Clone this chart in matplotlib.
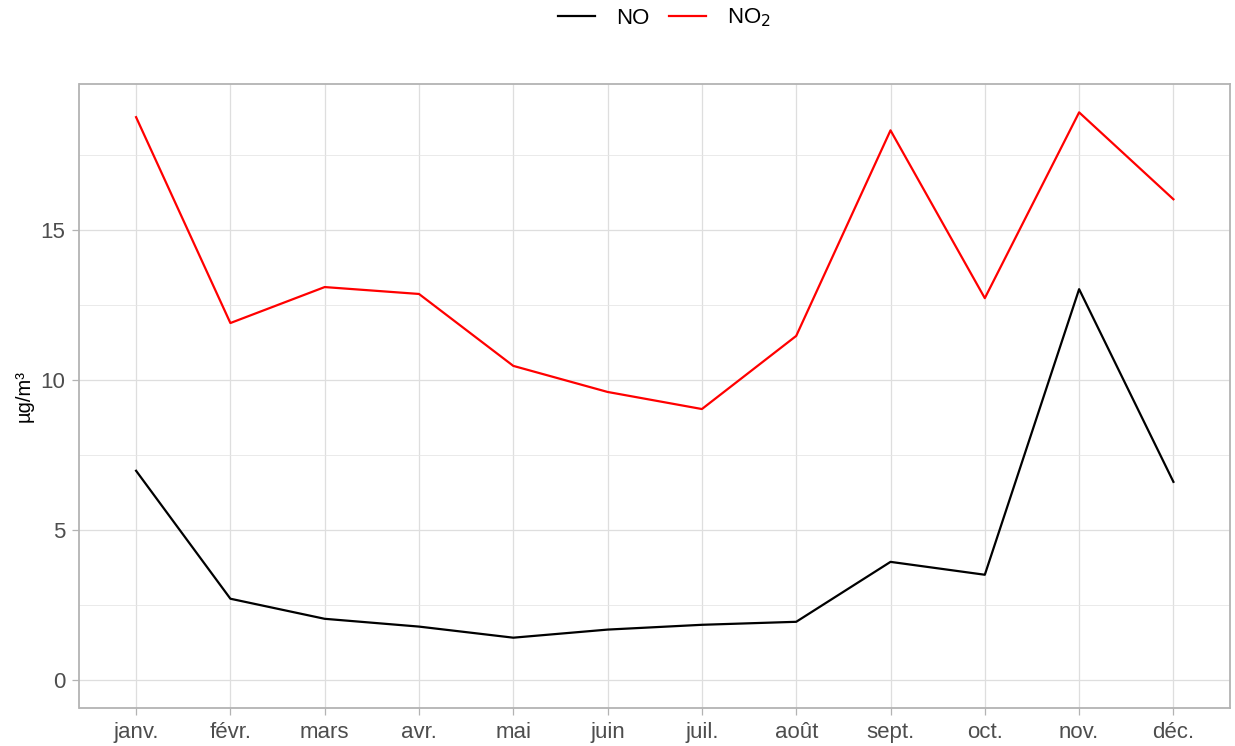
import matplotlib.pyplot as plt
from matplotlib.ticker import MultipleLocator

plt.rcParams['font.family'] = ['Liberation Sans', 'DejaVu Sans']

# Monthly means
months = ["janv.", "févr.", "mars", "avr.", "mai", "juin",
          "juil.", "août", "sept.", "oct.", "nov.", "déc."]
no = [6.97, 2.70, 2.03, 1.77, 1.40, 1.67, 1.83, 1.93, 3.93, 3.50, 13.03, 6.60]
no2 = [18.77, 11.90, 13.10, 12.87, 10.47, 9.60, 9.03, 11.47, 18.33, 12.73, 18.93, 16.03]

fig = plt.figure(figsize=(12.35, 7.46), dpi=100)
ax = fig.add_axes([79.5 / 1235, 1 - 708 / 746, (1230 - 79.5) / 1235, (708 - 84) / 746])

x = list(range(len(months)))
ax.plot(x, no, color="black", lw=1.6, label="NO")
ax.plot(x, no2, color="red", lw=1.6, label="NO$_2$")

# ggplot-like expansion
ymin = min(0, min(no), min(no2))
ymax = max(max(no), max(no2))
pad = (ymax - ymin) * 0.05
ax.set_ylim(ymin - pad, ymax + pad)
ax.set_xlim(-0.6, len(months) - 1 + 0.6)

ax.set_xticks(x)
ax.set_xticklabels(months, va="baseline")
ax.yaxis.set_major_locator(MultipleLocator(5))
ax.yaxis.set_minor_locator(MultipleLocator(2.5))
ax.xaxis.set_minor_locator(plt.NullLocator())

ax.grid(True, which="major", color="#dedede", lw=0.9)
ax.grid(True, which="minor", axis="y", color="#e6e6e6", lw=0.6)
ax.set_axisbelow(True)
for s in ax.spines.values():
    s.set_color("#b3b3b3")
    s.set_linewidth(1.3)
ax.tick_params(axis="both", which="major", colors="#b3b3b3", length=5, width=0.9,
               labelcolor="#4d4d4d", labelsize=16)
ax.tick_params(axis="y", which="major", pad=5)
ax.tick_params(axis="x", which="major", pad=16.5)
ax.tick_params(axis="y", which="minor", length=0)

ax.set_ylabel("µg/m³", fontsize=14.5, labelpad=5)

fig.legend(loc="center", bbox_to_anchor=(664.5 / 1235, 1 - 18 / 746), ncol=2, frameon=False,
           fontsize=16, handlelength=1.65, columnspacing=0.9, handletextpad=0.95)

fig.savefig("out.png", dpi=100)
